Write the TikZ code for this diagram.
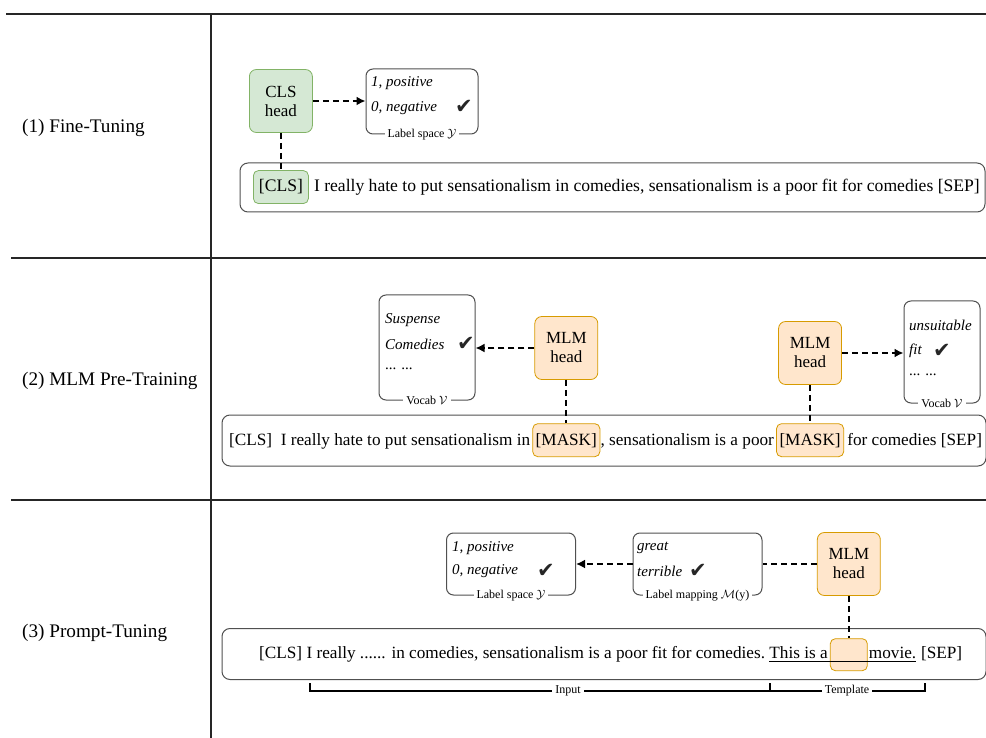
\documentclass[tikz,border=0pt]{standalone}
\usepackage{fontspec}
\setmainfont{Liberation Serif}
\newfontfamily\symf{DejaVu Sans}
\usetikzlibrary{arrows.meta,calc}
\definecolor{gfill}{HTML}{D5E8D4}
\definecolor{gdraw}{HTML}{82B366}
\definecolor{ofill}{HTML}{FFE6CC}
\definecolor{odraw}{HTML}{D79B00}
\definecolor{bord}{HTML}{505050}
\begin{document}
\begin{tikzpicture}[x=1pt,y=-1pt,
  rule/.style={line width=2pt, draw=black!85},
  head/.style={rounded corners=7pt, minimum width=63pt, minimum height=63pt, align=center, inner sep=0pt, font=\fontsize{17}{19}\selectfont, line width=0.8pt},
  ghead/.style={head, fill=gfill, draw=gdraw},
  ohead/.style={head, fill=ofill, draw=odraw},
  lbox/.style={draw=bord, rounded corners=7pt, line width=1pt},
  sbox/.style={draw=bord, rounded corners=8pt, line width=1pt},
  itx/.style={anchor=west, inner sep=0pt, font=\fontsize{15}{17}\selectfont\itshape},
  smalllab/.style={fill=white, inner sep=3pt, font=\fontsize{12}{14}\selectfont},
  chk/.style={inner sep=0pt, text=black!85, font=\symf\fontsize{21}{21}\selectfont},
  sent/.style={anchor=base west, inner sep=0pt, font=\fontsize{17.2}{19}\selectfont},
  tok/.style={anchor=base west, rounded corners=5pt, line width=0.8pt, inner xsep=3pt, inner ysep=0pt, minimum height=33pt, font=\fontsize{17.2}{19}\selectfont},
  side/.style={anchor=west, inner sep=0pt, font=\fontsize{19.2}{21}\selectfont},
  dasharr/.style={dash pattern=on 6pt off 4pt, line width=2pt, -{Latex[length=9pt,width=9pt]}},
  dashl/.style={dash pattern=on 6pt off 4pt, line width=2pt},
]
\useasboundingbox (0,0) rectangle (986,738);
% frame lines
\coordinate (r1a) at (6,14); \coordinate (r1b) at (986,14);
\coordinate (r2a) at (11,258); \coordinate (r2b) at (986,258);
\coordinate (r3a) at (11,500); \coordinate (r3b) at (986,500);
\coordinate (va) at (211,14); \coordinate (vb) at (211,738);
\draw[rule] (r1a) -- (r1b);
\draw[rule] (r2a) -- (r2b);
\draw[rule] (r3a) -- (r3b);
\draw[rule] (va) -- (vb);
% side labels
\node[side] (lab1) at (22,128) {(1) Fine-Tuning};
\node[side] (lab2) at (22,381) {(2) MLM Pre-Training};
\node[side] (lab3) at (22,633) {(3) Prompt-Tuning};

% ===== Section 1 =====
\node[sbox, minimum width=745pt, minimum height=49pt] (s1box) at (612.5,187.5) {};
\node[tok, fill=gfill, draw=gdraw, minimum width=55pt, font=\fontsize{17.6}{19}\selectfont] (cls1) at (253,192) {[CLS]};
\node[sent, font=\fontsize{17.6}{19}\selectfont] (s1t) at ($(cls1.base east)+(5,0)$) {I really hate to put sensationalism in comedies, sensationalism is a poor fit for comedies [SEP]};
\node[ghead] (clshead) at (cls1.center |- 0,101) {CLS\\head};
\node[lbox, minimum width=112pt, minimum height=65pt] (ls1) at (422,101.5) {};
\node[itx] (ls1a) at (371,83) {1, positive};
\node[itx] (ls1b) at (371,108) {0, negative};
\node[chk] (ls1c) at (464,107) {✔};
\node[smalllab] (ls1l) at (ls1.south) {Label space $\mathcal{Y}$};
\draw[dasharr] (clshead.east) -- (clshead.east -| ls1.west);
\draw[dashl] (clshead.south) -- (cls1.north);

% ===== Section 2 =====
\node[sbox, minimum width=764pt, minimum height=51pt] (s2box) at (604,440.5) {};
\node[sent] (s2a) at (229,445) {[CLS]\ \ I really hate to put sensationalism in};
\node[tok, fill=ofill, draw=odraw] (mask1) at ($(s2a.base east)+(2,0)$) {[MASK]};
\node[sent] (s2b) at (mask1.base east) {, sensationalism is a poor};
\node[tok, fill=ofill, draw=odraw] (mask2) at ($(s2b.base east)+(2,0)$) {[MASK]};
\node[sent] (s2c) at ($(mask2.base east)+(3,0)$) {for comedies [SEP]};
\node[ohead] (mlm1) at (mask1.center |- 0,348) {MLM\\head};
\node[ohead] (mlm2) at (mask2.center |- 0,353) {MLM\\head};
\node[lbox, minimum width=96pt, minimum height=105pt] (voc1) at (427,347.5) {};
\node[itx] (voc1a) at (385,320) {Suspense};
\node[itx] (voc1b) at (385,344) {Comedies};
\node[itx, font=\fontsize{15}{17}\selectfont] (voc1c) at (385,369) {... ...};
\node[chk] (voc1d) at (466,344) {✔};
\node[smalllab] (voc1l) at (voc1.south) {Vocab $\mathcal{V}$};
\node[lbox, minimum width=76pt, minimum height=102pt] (voc2) at (942,352) {};
\node[itx] (voc2a) at (909,325) {unsuitable};
\node[itx] (voc2b) at (909,351) {fit};
\node[itx, font=\fontsize{15}{17}\selectfont] (voc2c) at (909,375) {... ...};
\node[chk] (voc2d) at (942,351) {✔};
\node[smalllab] (voc2l) at (voc2.south) {Vocab $\mathcal{V}$};
\draw[dasharr] (mlm1.west) -- (mlm1.west -| voc1.east);
\draw[dasharr] (mlm2.east) -- (mlm2.east -| voc2.west);
\draw[dashl] (mlm1.south) -- (mask1.north);
\draw[dashl] (mlm2.south) -- (mask2.north);

% ===== Section 3 =====
\node[sbox, minimum width=764pt, minimum height=51pt] (s3box) at (604,654) {};
\node[sent] (s3a) at (259,658.5) {[CLS] I really ...... in comedies, sensationalism is a poor fit for comedies.};
\node[sent] (s3b) at ($(s3a.base east)+(4,0)$) {This is a};
\node[tok, fill=ofill, draw=odraw, minimum width=37pt, minimum height=32pt] (blank) at ($(s3b.base east)+(2,0)$) {\strut};
\node[sent] (s3c) at ($(blank.base east)+(1,0)$) {movie.};
\node[sent] (s3d) at ($(s3c.base east)+(4.5,0)$) {[SEP]};
\draw[line width=0.8pt] ($(s3b.base west)+(0,3)$) -- ($(s3c.base east)+(0,3)$);
\node[ohead] (mlm3) at (blank.center |- 0,564) {MLM\\head};
\node[lbox, minimum width=129pt, minimum height=62pt] (map) at (697.5,564) {};
\node[itx] (mapa) at (637,548) {great};
\node[itx] (mapb) at (637,571) {terrible};
\node[chk] (mapc) at (698,571) {✔};
\node[smalllab] (mapl) at (map.south) {Label mapping $\mathcal{M}$(y)};
\node[lbox, minimum width=129pt, minimum height=62pt] (ls3) at (511,564) {};
\node[itx] (ls3a) at (452,548) {1, positive};
\node[itx] (ls3b) at (452,571) {0, negative};
\node[chk] (ls3c) at (546,571) {✔};
\node[smalllab] (ls3l) at (ls3.south) {Label space $\mathcal{Y}$};
\draw[dasharr] (map.west) -- (ls3.east);
\draw[dashl] (mlm3.west) -- (mlm3.west -| map.east);
\draw[dashl] (mlm3.south) -- (blank.north);
% brackets
\coordinate (bL) at (310,683); \coordinate (bLb) at (310,691);
\coordinate (bM) at (770,683); \coordinate (bMb) at (770,691);
\coordinate (bR) at (925,683); \coordinate (bRb) at (925,691);
\draw[line width=1.5pt] (bL) -- (bLb) -- (bRb) -- (bR);
\draw[line width=1.5pt] (bM) -- (bMb);
\node[smalllab] (inlab) at (568,691) {Input};
\node[smalllab] (tplab) at (847,691) {Template};
\end{tikzpicture}
\end{document}
